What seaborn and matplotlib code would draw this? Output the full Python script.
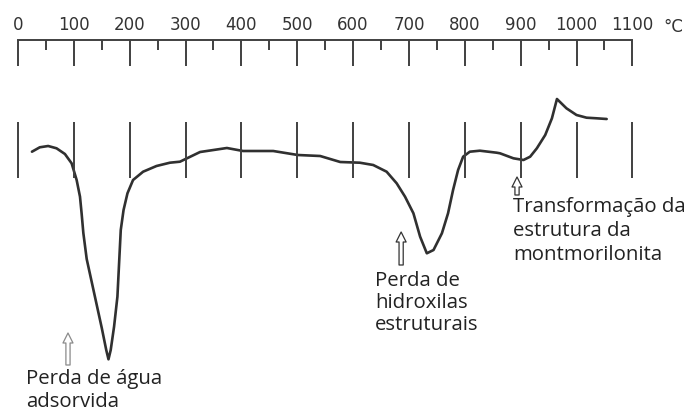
import numpy as np
import pandas as pd
import matplotlib.pyplot as plt
import seaborn as sns

sns.set_theme(style='white')
plt.rcParams['font.family'] = ['Open Sans', 'DejaVu Sans']

# curva ATD da montmorilonita (temperatura em °C, sinal em unidades arbitrárias)
temp = [25, 39, 54, 69, 84, 96, 105, 111, 114, 117, 123, 132, 141, 150, 158, 162,
        166, 172, 178, 181, 184, 189, 196, 206, 224, 248, 272, 290, 326, 374, 403,
        457, 501, 541, 577, 612, 636, 660, 678, 693, 708, 720, 732, 744, 759, 770,
        779, 788, 797, 809, 827, 857, 863, 887, 905, 917, 929, 944, 956, 965, 982,
        1000, 1018, 1036, 1054]
sinal = [-0.17, 0.27, 0.4, 0.17, -0.4, -1.33, -3.0, -4.67, -6.4, -8.3, -10.9, -13.2,
         -15.5, -17.8, -20.0, -20.93, -20.0, -17.67, -14.67, -11.33, -8.0, -6.0,
         -4.33, -3.0, -2.17, -1.6, -1.27, -1.17, -0.2, 0.2, -0.1, -0.1, -0.5, -0.6,
         -1.2, -1.27, -1.5, -2.17, -3.33, -4.67, -6.33, -8.67, -10.33, -10.0, -8.33,
         -6.33, -4.0, -2.0, -0.67, -0.17, -0.07, -0.27, -0.33, -0.83, -1.0, -0.67,
         0.17, 1.5, 3.17, 5.1, 4.17, 3.5, 3.23, 3.17, 3.1]

escala_maior = list(range(0, 1101, 100))
escala_menor = list(range(50, 1051, 100))

rotulos = ['Perda de água\nadsorvida',
           'Perda de\nhidroxilas\nestruturais',
           'Transformação da\nestrutura da\nmontmorilonita']
seta_temp = [89.5, 686, 893.5]
seta_base = [-21.5, -11.5, -4.5]
seta_ponta = [-18.3, -8.2, -2.7]
texto_temp = [15, 639, 886]
texto_topo = [-21.9, -12.1, -4.7]
espaco = [1.2, 1.15, 1.25]
seta_cor = ['#8a8a8a', '#333333', '#333333']

df = pd.DataFrame({'temp': temp, 'sinal': sinal})

W, H = 692, 417
x0, px_por_grau = 18, 0.5585
xlim = (-x0 / px_por_grau, (W - x0) / px_por_grau)

fig = plt.figure(figsize=(W / 100, H / 100), dpi=100)
ax = fig.add_axes([0, 0, 1, 1])
sns.lineplot(data=df, x='temp', y='sinal', color='#303030', linewidth=1.9, ax=ax)
ax.vlines(escala_maior, -2.8, 2.8, color='#404040', linewidth=1.4)

for txt, xa, yb, yp, xt, yt, ls, c in zip(rotulos, seta_temp, seta_base, seta_ponta,
                                          texto_temp, texto_topo, espaco, seta_cor):
    ax.annotate('', xy=(xa, yp), xytext=(xa, yb),
                arrowprops=dict(arrowstyle='simple,head_length=0.6,head_width=0.6,tail_width=0.25',
                                fc='white', ec=c, lw=0.9, shrinkA=0, shrinkB=0))
    ax.text(xt, yt, txt, ha='left', va='top', fontsize=14.7, color='#222222', linespacing=ls)

ax.set_xlim(*xlim)
ax.set_ylim((150 - H) / 10, 15)
ax.axis('off')

# escala de temperatura no topo
ax2 = fig.add_axes([0, 1 - 40 / H - 0.01, 1, 0.01])
ax2.set_xlim(*xlim)
ax2.patch.set_alpha(0)
for s in ['left', 'right', 'bottom']:
    ax2.spines[s].set_visible(False)
ax2.spines['top'].set_bounds(0, 1100)
ax2.spines['top'].set_color('#404040')
ax2.spines['top'].set_linewidth(1.4)
ax2.set_yticks([])
ax2.xaxis.tick_top()
ax2.set_xticks(escala_maior)
ax2.set_xticks(escala_menor, minor=True)
ax2.set_xticklabels([str(v) for v in escala_maior], family='DejaVu Sans', fontsize=12, color='#333333')
ax2.tick_params(axis='x', which='major', direction='in', length=18.7, width=1.4, color='#404040', pad=4)
ax2.tick_params(axis='x', which='minor', direction='in', length=7.2, width=1.4, color='#404040')
fig.text(673 / W, 1 - 27 / H, '°C', ha='center', va='center', family='DejaVu Sans', fontsize=12, color='#333333')

fig.savefig('out.png', dpi=100, facecolor='white')
